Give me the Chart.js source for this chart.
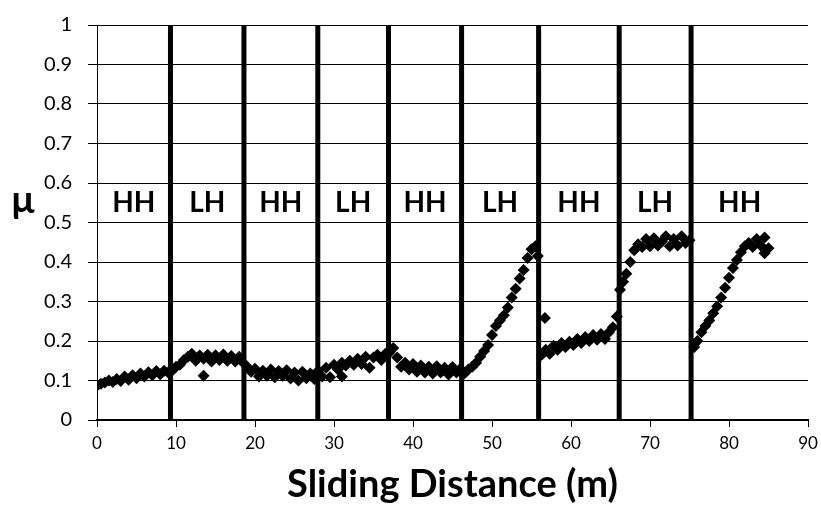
<!DOCTYPE html>
<html>
<head>
<meta charset="utf-8">
<script src="https://cdn.jsdelivr.net/npm/chart.js@4.4.0/dist/chart.umd.min.js"></script>
<style>
    body { margin: 0; background: #fff; }
    #wrap { width: 821px; height: 508px; }
</style>
</head>
<body>
<div id="wrap"><canvas id="frictionChart" width="821" height="508"></canvas></div>
<script>
// Sliding distance (m) for each measured point
const distance = [
    0, 0.5, 1, 1.5, 2, 2.5, 3, 3.5, 4, 4.5, 5, 5.5, 6, 6.5, 7, 7.5, 8, 8.5, 9,
    9.5, 10, 10.5, 11, 11.5, 12, 12.5, 13, 13.5, 13.5, 14, 14.5, 15, 15.5, 16, 16.5, 17, 17.5, 18, 18.5,
    19, 19.5, 20, 20.5, 21, 21.5, 22, 22.5, 23, 23.5, 24, 24.5, 25, 25.5, 26, 26.5, 27, 27.5,
    28, 28.5, 29, 29.5, 30, 30.5, 31, 31, 31.5, 32, 32.5, 33, 33.5, 34, 34.5, 35, 35.5, 36, 36.5, 37,
    37.5, 38, 38.5, 39, 39.5, 40, 40.5, 41, 41.5, 42, 42.5, 43, 43.5, 44, 44.5, 45, 45.5, 46, 46.5,
    47, 47.5, 48, 48.5, 49, 49.5, 50, 50.5, 51, 51.5, 52, 52.5, 53, 53.5, 54, 54.5, 55, 55.5, 55.8,
    56.7, 56.3, 56.8, 57.3, 57.8, 58.3, 58.8, 59.3, 59.8, 60.3, 60.8, 61.3, 61.8, 62.3, 62.8, 63.3, 63.8, 64.3, 64.8, 65.3, 65.8,
    66.2, 66.6, 67, 67.5, 68, 68.5, 69, 69.5, 70, 70.5, 71, 71.5, 72, 72.5, 73, 73.5, 74, 74.5, 75,
    75.6, 76, 76.5, 77, 77.5, 78, 78.5, 79, 79.5, 80, 80.5, 81, 81.5, 82, 82.5, 83, 83.5, 84, 84.5, 84.5, 85
];

// Friction coefficient μ
const mu = [
    0.087, 0.092, 0.095, 0.1, 0.096, 0.104, 0.099, 0.11, 0.102, 0.113, 0.106, 0.118, 0.11, 0.121, 0.113, 0.124, 0.116, 0.125, 0.12,
    0.125, 0.135, 0.14, 0.152, 0.16, 0.168, 0.15, 0.163, 0.155, 0.112, 0.165, 0.148, 0.164, 0.152, 0.166, 0.15, 0.162, 0.148, 0.16, 0.145,
    0.135, 0.122, 0.13, 0.11, 0.125, 0.112, 0.128, 0.108, 0.124, 0.112, 0.126, 0.105, 0.12, 0.1, 0.122, 0.106, 0.118, 0.104,
    0.125, 0.11, 0.132, 0.108, 0.14, 0.128, 0.145, 0.11, 0.138, 0.15, 0.14, 0.155, 0.142, 0.16, 0.132, 0.158, 0.165, 0.152, 0.168, 0.17,
    0.182, 0.158, 0.135, 0.145, 0.128, 0.142, 0.122, 0.138, 0.12, 0.135, 0.118, 0.136, 0.12, 0.132, 0.115, 0.134, 0.12, 0.13, 0.118,
    0.128, 0.135, 0.145, 0.16, 0.175, 0.19, 0.215, 0.238, 0.252, 0.265, 0.285, 0.31, 0.332, 0.358, 0.38, 0.41, 0.432, 0.44, 0.415,
    0.258, 0.165, 0.178, 0.168, 0.188, 0.178, 0.195, 0.185, 0.198, 0.19, 0.205, 0.195, 0.21, 0.2, 0.215, 0.203, 0.218, 0.205, 0.222, 0.235, 0.262,
    0.33, 0.35, 0.37, 0.4, 0.43, 0.445, 0.438, 0.458, 0.44, 0.46, 0.442, 0.452, 0.465, 0.44, 0.458, 0.442, 0.465, 0.448, 0.455,
    0.185, 0.2, 0.222, 0.238, 0.252, 0.27, 0.288, 0.31, 0.335, 0.36, 0.385, 0.405, 0.425, 0.44, 0.448, 0.438, 0.458, 0.442, 0.462, 0.422, 0.435
];

// Thick vertical lines where the sliding condition changes
const sectionBounds = [9.3, 18.6, 27.95, 36.9, 46.15, 55.9, 66.1, 75.2];
const lastEdge = 87.5;
const regionLabels = ['HH', 'LH', 'HH', 'LH', 'HH', 'LH', 'HH', 'LH', 'HH'];
const labelLevel = 0.55;

const xTicks = { min: 0, max: 90, step: 10 };
const yTicks = { min: 0, max: 1, step: 0.1 };

// Plugin vẽ nhãn vùng và ký hiệu μ
const labelPlugin = {
    id: 'regionLabels',
    afterDatasetsDraw(chart) {
        const { ctx, scales: { x, y }, chartArea } = chart;
        const edges = [0, ...sectionBounds, lastEdge];
        ctx.save();
        ctx.fillStyle = '#000';
        ctx.font = 'bold 28px Lato';
        ctx.textAlign = 'center';
        ctx.textBaseline = 'middle';
        regionLabels.forEach((txt, i) => {
            const cx = x.getPixelForValue((edges[i] + edges[i + 1]) / 2);
            ctx.fillText(txt, cx, y.getPixelForValue(labelLevel));
        });
        ctx.font = 'bold 38px Lato';
        ctx.textBaseline = 'alphabetic';
        ctx.fillText('μ', chartArea.left - 74, y.getPixelForValue(0.524));
        ctx.restore();
    }
};

const pointData = distance.map((d, i) => ({ x: d, y: mu[i] }));

const boundDatasets = sectionBounds.map(b => ({
    type: 'line',
    data: [{ x: b, y: yTicks.min }, { x: b, y: yTicks.max }],
    borderColor: '#000',
    borderWidth: 5,
    pointRadius: 0,
    order: 2
}));

const config = {
    type: 'scatter',
    data: {
        datasets: [{
            data: pointData,
            pointStyle: 'rectRot',
            pointRadius: 6,
            backgroundColor: '#000',
            borderColor: '#000',
            borderWidth: 0,
            order: 1
        }, ...boundDatasets]
    },
    options: {
        responsive: false,
        animation: false,
        layout: { padding: { top: 25, right: 13, left: 0, bottom: 0 } },
        plugins: {
            legend: { display: false },
            tooltip: { enabled: false }
        },
        scales: {
            x: {
                type: 'linear',
                min: xTicks.min,
                max: xTicks.max,
                ticks: {
                    stepSize: xTicks.step,
                    color: '#000',
                    font: { family: 'Lato', size: 17 },
                    padding: 6,
                    maxRotation: 0
                },
                grid: { drawOnChartArea: false, color: '#000', tickLength: 7 },
                border: { color: '#000', width: 2 },
                title: {
                    display: true,
                    text: 'Sliding Distance (m)',
                    color: '#000',
                    font: { family: 'Lato', size: 38, weight: 'bold' },
                    padding: { top: 0, bottom: 0 }
                },
                afterFit(scale) {
                    scale.height = 88;
                    scale.paddingLeft = 0;
                    scale.paddingRight = 0;
                }
            },
            y: {
                min: yTicks.min,
                max: yTicks.max,
                ticks: {
                    stepSize: yTicks.step,
                    color: '#000',
                    font: { family: 'Lato', size: 20 },
                    padding: 16,
                    callback: v => +v.toFixed(1)
                },
                grid: { color: '#000', tickLength: 9 },
                border: { color: '#000' },
                afterFit(scale) {
                    scale.width = 97;
                    scale.paddingTop = 0;
                    scale.paddingBottom = 0;
                }
            }
        }
    },
    plugins: [labelPlugin]
};

new Chart(document.getElementById('frictionChart').getContext('2d'), config);
</script>
</body>
</html>
